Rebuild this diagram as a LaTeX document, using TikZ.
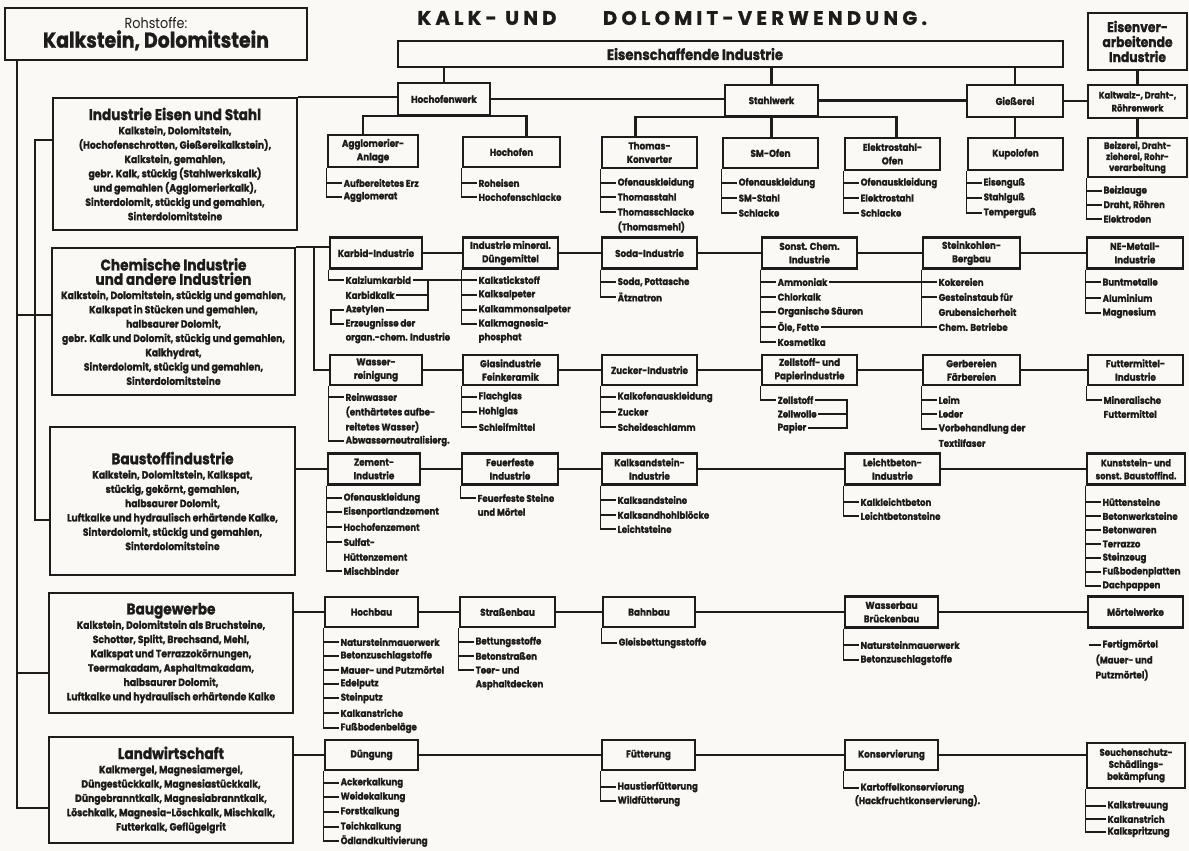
\documentclass[tikz,border=0pt]{standalone}
\usepackage{fontspec}
\setmainfont{Poppins}[FakeStretch=0.88, BoldFeatures={FakeBold=1.2}]
\newfontfamily\ttlfont[LetterSpace=22, BoldFeatures={FakeBold=1}]{Poppins}
\usepackage{tikz}
\definecolor{ink}{RGB}{30,28,26}
\definecolor{paper}{RGB}{250,249,245}
\tikzset{
	box/.style={draw=ink, line width=2.4pt, fill=paper, inner sep=1pt, align=center, text=ink,
		font=\bfseries\fontsize{10}{13.5}\selectfont},
	cat/.style={box, line width=2pt, font=\bfseries\fontsize{10.5}{14.3}\selectfont},
	hd/.style={inner sep=0pt, text=ink, font=\bfseries\fontsize{15}{16}\selectfont},
	ttl/.style={inner sep=0pt, text=ink, font=\ttlfont\bfseries\fontsize{19.5}{21}\selectfont},
	itm/.style={anchor=west, inner sep=1.5pt, text=ink, font=\bfseries\fontsize{9.8}{11}\selectfont},
	lnk/.style={draw=ink, line width=2.3pt},
	brk/.style={draw=ink, line width=1.1pt},
}
\begin{document}
\begin{tikzpicture}[x=1pt, y=-1pt]
	\useasboundingbox (0,0) rectangle (1189,851);
	\fill[paper] (0,0) rectangle (1189,851);
	\node[ttl] at (487,18) (ttla) {KALK- UND};
	\node[ttl] at (765,18) (ttlb) {DOLOMIT-VERWENDUNG.};
	\node[box, line width=2pt, minimum width=302pt, minimum height=52pt, font=\fontsize{14.5}{19}\selectfont] at (156,34) (roh) {Rohstoffe:\\{\bfseries\fontsize{21.5}{23}\selectfont Kalkstein, Dolomitstein}};

	\node[cat, minimum width=244pt, minimum height=132pt] at (175,164) (ies) {{\fontsize{15.5}{17}\selectfont Industrie Eisen und Stahl}\\Kalkstein, Dolomitstein,\\(Hochofenschrotten, Gießereikalkstein),\\Kalkstein, gemahlen,\\gebr. Kalk, stückig (Stahlwerkskalk)\\und gemahlen (Agglomerierkalk),\\Sinterdolomit, stückig und gemahlen,\\Sinterdolomitsteine};
	\node[cat, minimum width=243pt, minimum height=147pt] at (173.5,321.5) (chi) {{\fontsize{15.5}{16}\selectfont Chemische Industrie}\\{\fontsize{15.5}{16}\selectfont und andere Industrien}\\Kalkstein, Dolomitstein, stückig und gemahlen,\\Kalkspat in Stücken und gemahlen,\\halbsaurer Dolomit,\\gebr. Kalk und Dolomit, stückig und gemahlen,\\Kalkhydrat,\\Sinterdolomit, stückig und gemahlen,\\Sinterdolomitsteine};
	\node[cat, minimum width=245pt, minimum height=148pt] at (172.5,501) (bsi) {{\fontsize{15.5}{17}\selectfont Baustoffindustrie}\\Kalkstein, Dolomitstein, Kalkspat,\\stückig, gekörnt, gemahlen,\\halbsaurer Dolomit,\\Luftkalke und hydraulisch erhärtende Kalke,\\Sinterdolomit, stückig und gemahlen,\\Sinterdolomitsteine};
	\node[cat, minimum width=244pt, minimum height=120pt] at (171,653) (bgw) {{\fontsize{15.5}{17}\selectfont Baugewerbe}\\Kalkstein, Dolomitstein als Bruchsteine,\\Schotter, Splitt, Brechsand, Mehl,\\Kalkspat und Terrazzokörnungen,\\Teermakadam, Asphaltmakadam,\\halbsaurer Dolomit,\\Luftkalke und hydraulisch erhärtende Kalke};
	\node[cat, minimum width=244pt, minimum height=106pt] at (171,790) (lwi) {{\fontsize{15.5}{17}\selectfont Landwirtschaft}\\Kalkmergel, Magnesiamergel,\\Düngestückkalk, Magnesiastückkalk,\\Düngebranntkalk, Magnesiabranntkalk,\\Löschkalk, Magnesia-Löschkalk, Mischkalk,\\Futterkalk, Geflügelgrit};

	\node[box, minimum width=665pt, minimum height=26pt] at (730.5,54) (esi) {};
	\node[hd] at (695,54) (esit) {Eisenschaffende Industrie};
	\node[box, minimum width=99pt, minimum height=57pt, font=\bfseries\fontsize{14}{15}\selectfont] at (1137.5,41.5) (evi) {Eisenver-\\arbeitende\\Industrie};
	\node[box, minimum width=92pt, minimum height=32pt] at (444,99) (hofw) {Hochofenwerk};
	\node[box, minimum width=93pt, minimum height=31pt] at (771.5,100.5) (stw) {Stahlwerk};
	\node[box, minimum width=96pt, minimum height=32pt] at (1015,101) (gie) {Gießerei};
	\node[box, minimum width=99pt, minimum height=33pt, font=\bfseries\fontsize{9.5}{13}\selectfont] at (1137.5,101.5) (kal) {Kaltwalz-, Draht-,\\Röhrenwerk};
	\node[box, minimum width=90pt, minimum height=32pt] at (373,151) (agg) {Agglomerier-\\Anlage};
	\node[box, minimum width=97pt, minimum height=30pt] at (511.5,152) (hof) {Hochofen};
	\node[box, minimum width=95pt, minimum height=31pt] at (649.5,152.5) (tho) {Thomas-\\Konverter};
	\node[box, minimum width=95pt, minimum height=30pt] at (770.5,153) (smo) {SM-Ofen};
	\node[box, minimum width=95pt, minimum height=32pt] at (892.5,154) (elo) {Elektrostahl-\\Ofen};
	\node[box, minimum width=95pt, minimum height=32pt] at (1015.5,154) (kup) {Kupolofen};
	\node[box, minimum width=99pt, minimum height=39pt, font=\bfseries\fontsize{9.5}{11}\selectfont] at (1137.5,157.5) (bei) {Beizerei, Draht-\\zieherei, Rohr-\\verarbeitung};

	\node[box, minimum width=92pt, minimum height=31pt] at (376,253) (kar) {Karbid-Industrie};
	\node[box, minimum width=95pt, minimum height=31pt] at (510.5,253) (dng) {Industrie mineral.\\Düngemittel};
	\node[box, minimum width=95pt, minimum height=31pt] at (649.5,253) (sod) {Soda-Industrie};
	\node[box, minimum width=95pt, minimum height=31pt] at (809.5,253) (soc) {Sonst. Chem.\\Industrie};
	\node[box, minimum width=97pt, minimum height=31pt] at (971.5,253) (stk) {Steinkohlen-\\Bergbau};
	\node[box, minimum width=96pt, minimum height=31pt] at (1135,253) (nem) {NE-Metall-\\Industrie};
	\node[box, minimum width=92pt, minimum height=30pt] at (376,370) (wsr) {Wasser-\\reinigung};
	\node[box, minimum width=95pt, minimum height=30pt] at (510.5,370) (gla) {Glasindustrie\\Feinkeramik};
	\node[box, minimum width=95pt, minimum height=30pt] at (649.5,370) (zuc) {Zucker-Industrie};
	\node[box, minimum width=95pt, minimum height=30pt] at (809.5,370) (zel) {Zellstoff- und\\Papierindustrie};
	\node[box, minimum width=97pt, minimum height=30pt] at (971.5,370) (ger) {Gerbereien\\Färbereien};
	\node[box, minimum width=95pt, minimum height=30pt] at (1135.5,370) (fut) {Futtermittel-\\Industrie};

	\node[box, minimum width=92pt, minimum height=31pt] at (374,469) (zem) {Zement-\\Industrie};
	\node[box, minimum width=96pt, minimum height=31pt] at (510,469) (feu) {Feuerfeste\\Industrie};
	\node[box, minimum width=95pt, minimum height=31pt] at (649.5,469) (kss) {Kalksandstein-\\Industrie};
	\node[box, minimum width=95pt, minimum height=31pt] at (892.5,469) (lbt) {Leichtbeton-\\Industrie};
	\node[box, minimum width=98pt, minimum height=31pt, font=\bfseries\fontsize{9.5}{13}\selectfont] at (1136,469) (kun) {Kunststein- und\\sonst. Baustoffind.};

	\node[box, minimum width=93pt, minimum height=30pt] at (371.5,612) (hoc) {Hochbau};
	\node[box, minimum width=95pt, minimum height=30pt] at (507.5,612) (str) {Straßenbau};
	\node[box, minimum width=92pt, minimum height=30pt] at (649,612) (bah) {Bahnbau};
	\node[box, minimum width=93pt, minimum height=31pt] at (891.5,612) (wab) {Wasserbau\\Brückenbau};
	\node[box, minimum width=95pt, minimum height=31pt] at (1135.5,612) (mow) {Mörtelwerke};

	\node[box, minimum width=93pt, minimum height=30pt] at (371.5,755) (due) {Düngung};
	\node[box, minimum width=93pt, minimum height=30pt] at (648.5,755) (fue) {Fütterung};
	\node[box, minimum width=93pt, minimum height=30pt] at (891.5,755) (kon) {Konservierung};
	\node[box, minimum width=98pt, minimum height=45pt, font=\bfseries\fontsize{9.8}{12}\selectfont] at (1136,765.5) (seu) {Seuchenschutz-\\Schädlings-\\bekämpfung};

	\coordinate (sp) at ([xshift=13pt]roh.south west);
	\draw[lnk] ([yshift=-18pt]lwi.west) -| (sp);
	\draw[lnk] ([yshift=6.5pt]chi.west) -| (sp);
	\draw[lnk] ([yshift=-20pt]bgw.west) -| (sp);
	\draw[lnk] ([yshift=24pt]ies.west) -| ([xshift=-14pt, yshift=-19pt]bsi.west) -- ([yshift=-19pt]bsi.west);

	\draw[lnk] (esi.south -| hofw.north) -- (hofw.north);
	\draw[lnk] (esi.south -| stw.north) -- (stw.north);
	\draw[lnk] (esi.south -| gie.north) -- (gie.north);
	\draw[lnk] (evi.south) -- (kal.north);
	\draw[lnk] (ies.north east) -- (ies.north east -| hofw.west);
	\draw[lnk] (hofw.east) -- (hofw.east -| stw.west);
	\draw[lnk] (stw.east) -- (stw.east -| gie.west);
	\draw[lnk] (gie.east) -- (gie.east -| kal.west);
	\draw[lnk] ([xshift=-10pt]agg.north) |- (hofw.south) -| ([xshift=15pt]hof.north);
	\draw[lnk] ([xshift=-14pt]tho.north) |- (stw.south) -| ([xshift=4pt]elo.north);
	\draw[lnk] (stw.south) -- (stw.south |- smo.north);
	\draw[lnk] (gie.south) -- (gie.south |- kup.north);
	\draw[lnk] (kal.south) -- (kal.south |- bei.north);

	\draw[lnk] (chi.north east) -- (chi.north east -| kar.west);
	\draw[lnk] ([xshift=18pt]chi.north east) |- (wsr.west);
	\draw[lnk] (kar.east) -- (dng.west);
	\draw[lnk] (dng.east) -- (sod.west);
	\draw[lnk] (sod.east) -- (soc.west);
	\draw[lnk] (soc.east) -- (stk.west);
	\draw[lnk] (stk.east) -- (nem.west);
	\draw[lnk] (wsr.east) -- (gla.west);
	\draw[lnk] (gla.east) -- (zuc.west);
	\draw[lnk] (zuc.east) -- (zel.west);
	\draw[lnk] (zel.east) -- (ger.west);
	\draw[lnk] (ger.east) -- (fut.west);
	\draw[lnk] ([yshift=32pt]bsi.east) -- (zem.west);
	\draw[lnk] (zem.east) -- (feu.west);
	\draw[lnk] (feu.east) -- (kss.west);
	\draw[lnk] (kss.east) -- (lbt.west);
	\draw[lnk] (lbt.east) -- (kun.west);
	\draw[lnk] ([yshift=41pt]bgw.east) -- (hoc.west);
	\draw[lnk] (hoc.east) -- (str.west);
	\draw[lnk] (str.east) -- (bah.west);
	\draw[lnk] (bah.east) -- (wab.west);
	\draw[lnk] (wab.east) -- (mow.west);
	\draw[lnk] ([yshift=35pt]lwi.east) -- (due.west);
	\draw[lnk] (due.east) -- (fue.west);
	\draw[lnk] (fue.east) -- (kon.west);
	\draw[lnk] (kon.east) -- (kon.east -| seu.west);

	\node[itm] at (342,183) (ag1) {Aufbereitetes Erz};
	\node[itm] at (342,197) (ag2) {Agglomerat};
	\node[itm] at (477,183) (ho1) {Roheisen};
	\node[itm] at (477,197) (ho2) {Hochofenschlacke};
	\node[itm] at (616,183) (th1) {Ofenauskleidung};
	\node[itm] at (616,197) (th2) {Thomasstahl};
	\node[itm] at (616,212) (th3) {Thomasschlacke};
	\node[itm] at (616,227) (th4) {(Thomasmehl)};
	\node[itm] at (737,183) (sm1) {Ofenauskleidung};
	\node[itm] at (737,198) (sm2) {SM-Stahl};
	\node[itm] at (737,213) (sm3) {Schlacke};
	\node[itm] at (859,183) (el1) {Ofenauskleidung};
	\node[itm] at (859,198) (el2) {Elektrostahl};
	\node[itm] at (859,213) (el3) {Schlacke};
	\node[itm] at (982,183) (ku1) {Eisenguß};
	\node[itm] at (982,198) (ku2) {Stahlguß};
	\node[itm] at (982,213) (ku3) {Temperguß};
	\node[itm] at (1102,191) (be1) {Beizlauge};
	\node[itm] at (1102,205) (be2) {Draht, Röhren};
	\node[itm] at (1102,219) (be3) {Elektroden};
	\foreach \i in {1,2} \draw[brk] (agg.south west) |- (ag\i.west);
	\foreach \i in {1,2} \draw[brk] (hof.south west) |- (ho\i.west);
	\foreach \i in {1,2,3} \draw[brk] (tho.south west) |- (th\i.west);
	\foreach \i in {1,2,3} \draw[brk] (smo.south west) |- (sm\i.west);
	\foreach \i in {1,2,3} \draw[brk] (elo.south west) |- (el\i.west);
	\foreach \i in {1,2,3} \draw[brk] (kup.south west) |- (ku\i.west);
	\foreach \i in {1,2,3} \draw[brk] (bei.south west) |- (be\i.west);

	\node[itm] at (344,280) (kr1) {Kalziumkarbid};
	\node[itm] at (344,295) (kr2) {Karbidkalk};
	\node[itm] at (344,310) (kr3) {Azetylen};
	\node[itm] at (344,324) (kr4) {Erzeugnisse der};
	\node[itm] at (344,338) (kr5) {organ.-chem. Industrie};
	\node[itm] at (477,280) (dn1) {Kalkstickstoff};
	\node[itm] at (477,295) (dn2) {Kalksalpeter};
	\node[itm] at (477,310) (dn3) {Kalkammonsalpeter};
	\node[itm] at (477,324) (dn4) {Kalkmagnesia-};
	\node[itm] at (477,338) (dn5) {phosphat};
	\node[itm] at (616,282) (so1) {Soda, Pottasche};
	\node[itm] at (616,297) (so2) {Ätznatron};
	\node[itm] at (776,282) (sc1) {Ammoniak};
	\node[itm] at (776,297) (sc2) {Chlorkalk};
	\node[itm] at (776,312) (sc3) {Organische Säuren};
	\node[itm] at (776,327) (sc4) {Öle, Fette};
	\node[itm] at (776,342) (sc5) {Kosmetika};
	\node[itm] at (937,282) (sk1) {Kokereien};
	\node[itm] at (937,297) (sk2) {Gesteinstaub für};
	\node[itm] at (937,312) (sk3) {Grubensicherheit};
	\node[itm] at (937,327) (sk4) {Chem. Betriebe};
	\node[itm] at (1101,282) (ne1) {Buntmetalle};
	\node[itm] at (1101,298) (ne2) {Aluminium};
	\node[itm] at (1101,313) (ne3) {Magnesium};
	\coordinate (krj) at (428,280);
	\draw[brk] (kar.south west) |- (kr1.west);
	\draw[brk] (kr3.west) -- ++(-13,0) |- (kr4.west);
	\draw[brk] (kr1.east) -- (dn1.west);
	\draw[brk] (kr2.east) -- (kr2.east -| krj);
	\draw[brk] (kr3.east) -| (krj);
	\foreach \i in {1,2,3,4} \draw[brk] (dng.south west) |- (dn\i.west);
	\foreach \i in {1,2} \draw[brk] (sod.south west) |- (so\i.west);
	\foreach \i in {1,2,3,4,5} \draw[brk] (soc.south west) |- (sc\i.west);
	\foreach \i in {1,2,4} \draw[brk] (stk.south west) |- (sk\i.west);
	\draw[brk] (sc1.east) -- (sk1.west);
	\draw[brk] (sc4.east) -- (sk4.west);
	\foreach \i in {1,2,3} \draw[brk] (nem.south west) |- (ne\i.west);

	\node[itm] at (344,397) (ws1) {Reinwasser};
	\node[itm] at (344,412) (ws2) {(enthärtetes aufbe-};
	\node[itm] at (344,427) (ws3) {reitetes Wasser)};
	\node[itm] at (344,441) (ws4) {Abwasserneutralisierg.};
	\node[itm] at (477,397) (gl1) {Flachglas};
	\node[itm] at (477,412) (gl2) {Hohlglas};
	\node[itm] at (477,427) (gl3) {Schleifmittel};
	\node[itm] at (616,397) (zu1) {Kalkofenauskleidung};
	\node[itm] at (616,412) (zu2) {Zucker};
	\node[itm] at (616,427) (zu3) {Scheideschlamm};
	\node[itm] at (776,400) (zl1) {Zellstoff};
	\node[itm] at (776,414) (zl2) {Zellwolle};
	\node[itm] at (776,428) (zl3) {Papier};
	\node[itm] at (937,400) (ge1) {Leim};
	\node[itm] at (937,414) (ge2) {Leder};
	\node[itm] at (937,429) (ge3) {Vorbehandlung der};
	\node[itm] at (937,443) (ge4) {Textilfaser};
	\node[itm] at (1102,400) (fu1) {Mineralische};
	\node[itm] at (1102,414) (fu2) {Futtermittel};
	\foreach \i in {1,4} \draw[brk] (wsr.south west) |- (ws\i.west);
	\foreach \i in {1,2,3} \draw[brk] (gla.south west) |- (gl\i.west);
	\foreach \i in {1,2,3} \draw[brk] (zuc.south west) |- (zu\i.west);
	\coordinate (zlj) at (847,414);
	\draw[brk] (zel.south west) |- (zl1.west);
	\draw[brk] (zl1.east) -| (zlj) |- (zl3.east);
	\draw[brk] (zl2.east) -- (zlj);
	\foreach \i in {1,2,3} \draw[brk] (ger.south west) |- (ge\i.west);
	\draw[brk] (fut.south west) |- (fu1.west);

	\node[itm] at (342,498) (ze1) {Ofenauskleidung};
	\node[itm] at (342,512) (ze2) {Eisenportlandzement};
	\node[itm] at (342,527) (ze3) {Hochofenzement};
	\node[itm] at (342,542) (ze4) {Sulfat-};
	\node[itm] at (342,557) (ze5) {Hüttenzement};
	\node[itm] at (342,571) (ze6) {Mischbinder};
	\node[itm] at (476,498) (fe1) {Feuerfeste Steine};
	\node[itm] at (476,512) (fe2) {und Mörtel};
	\node[itm] at (616,500) (ks1) {Kalksandsteine};
	\node[itm] at (616,515) (ks2) {Kalksandhohlblöcke};
	\node[itm] at (616,529) (ks3) {Leichtsteine};
	\node[itm] at (859,502) (lb1) {Kalkleichtbeton};
	\node[itm] at (859,516) (lb2) {Leichtbetonsteine};
	\node[itm] at (1101,502) (kn1) {Hüttensteine};
	\node[itm] at (1101,516) (kn2) {Betonwerksteine};
	\node[itm] at (1101,530) (kn3) {Betonwaren};
	\node[itm] at (1101,544) (kn4) {Terrazzo};
	\node[itm] at (1101,558) (kn5) {Steinzeug};
	\node[itm] at (1101,572) (kn6) {Fußbodenplatten};
	\node[itm] at (1101,586) (kn7) {Dachpappen};
	\foreach \i in {1,2,3,4,6} \draw[brk] (zem.south west) |- (ze\i.west);
	\draw[brk] (feu.south west) |- (fe1.west);
	\foreach \i in {1,2,3} \draw[brk] (kss.south west) |- (ks\i.west);
	\foreach \i in {1,2} \draw[brk] (lbt.south west) |- (lb\i.west);
	\foreach \i in {1,...,7} \draw[brk] (kun.south west) |- (kn\i.west);

	\node[itm] at (339,642) (hb1) {Natursteinmauerwerk};
	\node[itm] at (339,656) (hb2) {Betonzuschlagstoffe};
	\node[itm] at (339,670) (hb3) {Mauer- und Putzmörtel};
	\node[itm] at (339,684) (hb4) {Edelputz};
	\node[itm] at (339,698) (hb5) {Steinputz};
	\node[itm] at (339,713) (hb6) {Kalkanstriche};
	\node[itm] at (339,728) (hb7) {Fußbodenbeläge};
	\node[itm] at (474,642) (sb1) {Bettungsstoffe};
	\node[itm] at (474,656) (sb2) {Betonstraßen};
	\node[itm] at (474,670) (sb3) {Teer- und};
	\node[itm] at (474,685) (sb4) {Asphaltdecken};
	\node[itm] at (617,643) (bb1) {Gleisbettungsstoffe};
	\node[itm] at (859,645) (wb1) {Natursteinmauerwerk};
	\node[itm] at (859,660) (wb2) {Betonzuschlagstoffe};
	\node[itm] at (1101,645) (mw1) {Fertigmörtel};
	\node[itm] at (1094,660) (mw2) {(Mauer- und};
	\node[itm] at (1094,675) (mw3) {Putzmörtel)};
	\foreach \i in {1,...,7} \draw[brk] (hoc.south west) |- (hb\i.west);
	\foreach \i in {1,2,3} \draw[brk] (str.south west) |- (sb\i.west);
	\draw[brk] (bah.south west) |- (bb1.west);
	\foreach \i in {1,2} \draw[brk] (wab.south west) |- (wb\i.west);
	\coordinate (mwt) at (1089,645);
	\draw[brk] (mwt) -- (mw1.west);

	\node[itm] at (339,783) (dg1) {Ackerkalkung};
	\node[itm] at (339,797) (dg2) {Weidekalkung};
	\node[itm] at (339,812) (dg3) {Forstkalkung};
	\node[itm] at (339,827) (dg4) {Teichkalkung};
	\node[itm] at (339,841) (dg5) {Ödlandkultivierung};
	\node[itm] at (616,787) (ft1) {Haustierfütterung};
	\node[itm] at (616,801) (ft2) {Wildfütterung};
	\node[itm] at (859,788) (ko1) {Kartoffelkonservierung};
	\node[itm] at (853,801) (ko2) {(Hackfruchtkonservierung).};
	\node[itm] at (1106,806) (se1) {Kalkstreuung};
	\node[itm] at (1106,819) (se2) {Kalkanstrich};
	\node[itm] at (1106,832) (se3) {Kalkspritzung};
	\foreach \i in {1,...,5} \draw[brk] (due.south west) |- (dg\i.west);
	\foreach \i in {1,2} \draw[brk] (fue.south west) |- (ft\i.west);
	\draw[brk] (kon.south west) |- (ko1.west);
	\foreach \i in {1,2,3} \draw[brk] (seu.south west) |- (se\i.west);
\end{tikzpicture}
\end{document}
